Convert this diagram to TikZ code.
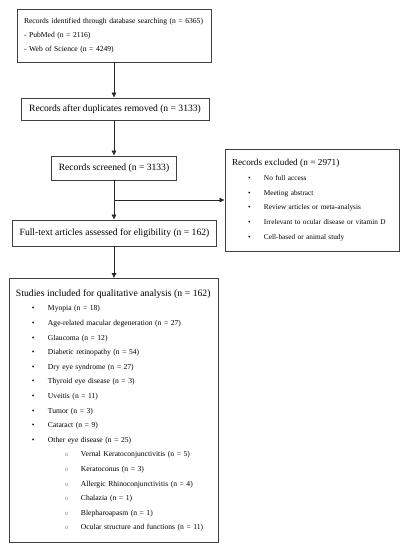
\documentclass[tikz,border=0pt]{standalone}
\usepackage{fontspec}
\setmainfont{Liberation Serif}
\newfontfamily\monofont{Liberation Mono}
\usetikzlibrary{arrows.meta}

\tikzset{
	flowbox/.style={draw=black!75, line width=0.7pt, rectangle, inner xsep=7pt, inner ysep=0pt, align=left},
	flowarrow/.style={-{Latex[length=5pt,width=5pt]}, line width=0.6pt, black!85}
}
\newcommand{\listline}[1]{\hspace*{16pt}\makebox[16pt][l]{\textbullet}#1}
\newcommand{\sublistline}[1]{\hspace*{49pt}\makebox[16pt][l]{\textcolor{black!45}{\monofont\fontsize{6}{6}\selectfont o}}#1}

\begin{document}
\begin{tikzpicture}[x=1pt,y=-1pt]
		\useasboundingbox (0,0) rectangle (408,550);

		\node[flowbox, minimum width=194pt, minimum height=53pt, text width=180pt,
			font=\fontsize{7.6}{14.3}\selectfont] (search) at (114,35.5)
			{Records identified through database searching (n = 6365)\\
			- PubMed (n = 2116)\\
			- Web of Science (n = 4249)};
		\node[flowbox, minimum width=188pt, minimum height=22pt, align=center,
			font=\fontsize{9.6}{11}\selectfont] (dedup) at (115,109)
			{Records after duplicates removed (n = 3133)};
		\node[flowbox, minimum width=122pt, minimum height=24pt, align=center,
			font=\fontsize{9.6}{11}\selectfont] (screened) at (114,168)
			{Records screened (n = 3133)};
		\node[flowbox, minimum width=174pt, minimum height=102pt, text width=160pt,
			font=\fontsize{7.3}{14.8}\selectfont] (excluded) at (312,200)
			{{\fontsize{9.2}{11}\selectfont Records excluded (n = 2971)}\\
			\listline{No full access}\\
			\listline{Meeting abstract}\\
			\listline{Review articles or meta-analysis}\\
			\listline{Irrelevant to ocular disease or vitamin D}\\
			\listline{Cell-based or animal study}};
		\node[flowbox, minimum width=203pt, minimum height=26pt, align=center,
			font=\fontsize{9.6}{11}\selectfont] (fulltext) at (114.5,233)
			{Full-text articles assessed for eligibility (n = 162)};
		\node[flowbox, minimum width=209pt, minimum height=264pt, text width=195pt,
			font=\fontsize{7.6}{14.6}\selectfont] (included) at (113.5,410.5)
			{{\fontsize{9.7}{11}\selectfont Studies included for qualitative analysis (n = 162)}\\
			\listline{Myopia (n = 18)}\\
			\listline{Age-related macular degeneration (n = 27)}\\
			\listline{Glaucoma (n = 12)}\\
			\listline{Diabetic retinopathy (n = 54)}\\
			\listline{Dry eye syndrome (n = 27)}\\
			\listline{Thyroid eye disease (n = 3)}\\
			\listline{Uveitis (n = 11)}\\
			\listline{Tumor (n = 3)}\\
			\listline{Cataract (n = 9)}\\
			\listline{Other eye disease (n = 25)}\\
			\sublistline{Vernal Keratoconjunctivitis (n = 5)}\\
			\sublistline{Keratoconus (n = 3)}\\
			\sublistline{Allergic Rhinoconjunctivitis (n = 4)}\\
			\sublistline{Chalazia (n = 1)}\\
			\sublistline{Blepharoapasm (n = 1)}\\
			\sublistline{Ocular structure and functions (n = 11)}};

		\coordinate (branch) at (screened.south |- excluded.west);

		\draw[flowarrow] (search.south) -- (search.south |- dedup.north);
		\draw[flowarrow] (dedup.south -| screened.north) -- (screened.north);
		\draw[flowarrow] (screened.south) -- (screened.south |- fulltext.north);
		\draw[flowarrow] (branch) -- (excluded.west);
		\draw[flowarrow] (fulltext.south -| screened.south) -- (screened.south |- included.north);
	\end{tikzpicture}
\end{document}
